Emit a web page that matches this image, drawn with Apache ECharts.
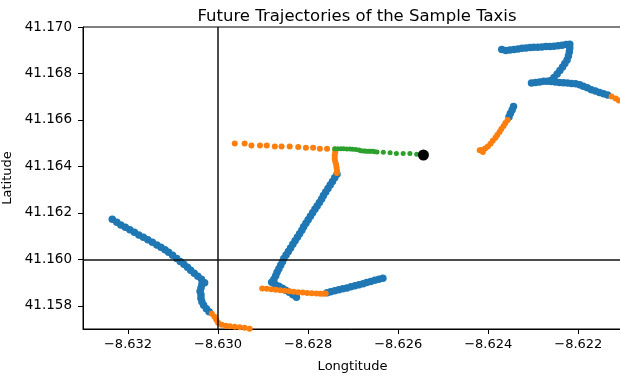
<!DOCTYPE html>
<html>
<head>
<meta charset="utf-8">
<title>Future Trajectories of the Sample Taxis</title>
<script src="https://cdn.jsdelivr.net/npm/echarts@6.0.0/dist/echarts.min.js"></script>
<style>
    html, body { margin: 0; padding: 0; background: #fff; }
    #chart { width: 620px; height: 376px; }
</style>
</head>
<body>
<div id="chart"></div>
<script>
// tick labels
var lonTicks = [-8.632, -8.630, -8.628, -8.626, -8.624, -8.622];
var latTicks = [41.158, 41.160, 41.162, 41.164, 41.166, 41.168, 41.170];

// reference cross
var refLon = -8.630;
var refLat = 41.160;

// taxi A (left)
var pastA = [
    [-8.63235, 41.16172], [-8.63225, 41.16159], [-8.63216, 41.16148], [-8.63206, 41.16138],
    [-8.63196, 41.16127], [-8.63186, 41.16116], [-8.63176, 41.16105], [-8.63166, 41.16095],
    [-8.63156, 41.16084], [-8.63146, 41.16073], [-8.63136, 41.16062], [-8.63127, 41.16052],
    [-8.63118, 41.16041], [-8.63110, 41.16030], [-8.63101, 41.16017], [-8.63092, 41.16004],
    [-8.63084, 41.15991], [-8.63076, 41.15979], [-8.63068, 41.15966], [-8.63061, 41.15953],
    [-8.63053, 41.15940], [-8.63045, 41.15927], [-8.63037, 41.15914], [-8.63030, 41.15899],
    [-8.63036, 41.15892], [-8.63038, 41.15877], [-8.63040, 41.15862], [-8.63038, 41.15847],
    [-8.63038, 41.15832], [-8.63036, 41.15817], [-8.63032, 41.15802], [-8.63026, 41.15787],
    [-8.63020, 41.15774]
];
var futureA = [
    [-8.63014, 41.15766], [-8.63008, 41.15753], [-8.63004, 41.15740], [-8.63000, 41.15727],
    [-8.62992, 41.15718], [-8.62983, 41.15714], [-8.62974, 41.15712], [-8.62963, 41.15710],
    [-8.62952, 41.15708], [-8.62941, 41.15705], [-8.62930, 41.15701], [-8.62918, 41.15697],
    [-8.62907, 41.15692], [-8.62894, 41.15686], [-8.62881, 41.15680]
];

// taxi B (middle)
var pastB = [
    [-8.62736, 41.16366], [-8.62741, 41.16351], [-8.62746, 41.16335], [-8.62751, 41.16320],
    [-8.62756, 41.16305], [-8.62761, 41.16290], [-8.62766, 41.16275], [-8.62770, 41.16260],
    [-8.62775, 41.16245], [-8.62780, 41.16230], [-8.62785, 41.16215], [-8.62790, 41.16200],
    [-8.62795, 41.16185], [-8.62800, 41.16170], [-8.62805, 41.16155], [-8.62810, 41.16140],
    [-8.62814, 41.16125], [-8.62819, 41.16110], [-8.62824, 41.16095], [-8.62829, 41.16080],
    [-8.62834, 41.16065], [-8.62839, 41.16049], [-8.62844, 41.16034], [-8.62849, 41.16019],
    [-8.62854, 41.16004], [-8.62857, 41.15989], [-8.62861, 41.15974], [-8.62865, 41.15959],
    [-8.62869, 41.15944], [-8.62872, 41.15929], [-8.62876, 41.15914], [-8.62881, 41.15901],
    [-8.62873, 41.15892], [-8.62865, 41.15884], [-8.62857, 41.15875], [-8.62850, 41.15867],
    [-8.62842, 41.15858], [-8.62834, 41.15847], [-8.62826, 41.15837],
    [-8.62758, 41.15856], [-8.62750, 41.15860], [-8.62741, 41.15865], [-8.62732, 41.15869],
    [-8.62723, 41.15873], [-8.62714, 41.15877], [-8.62705, 41.15882], [-8.62696, 41.15886],
    [-8.62687, 41.15890], [-8.62678, 41.15895], [-8.62670, 41.15900], [-8.62661, 41.15905],
    [-8.62652, 41.15910], [-8.62643, 41.15914], [-8.62634, 41.15918]
];
var futureB = [
    [-8.62740, 41.16473], [-8.62740, 41.16460], [-8.62741, 41.16447], [-8.62741, 41.16434],
    [-8.62740, 41.16421], [-8.62738, 41.16409], [-8.62737, 41.16396], [-8.62736, 41.16383],
    [-8.62736, 41.16372],
    [-8.62963, 41.16498], [-8.62941, 41.16498], [-8.62926, 41.16490], [-8.62907, 41.16490],
    [-8.62892, 41.16490], [-8.62874, 41.16486], [-8.62859, 41.16486], [-8.62841, 41.16486],
    [-8.62822, 41.16483], [-8.62805, 41.16480], [-8.62789, 41.16480], [-8.62774, 41.16476],
    [-8.62758, 41.16476],
    [-8.62902, 41.15874], [-8.62892, 41.15873], [-8.62882, 41.15871], [-8.62872, 41.15869],
    [-8.62862, 41.15867], [-8.62852, 41.15865], [-8.62842, 41.15862], [-8.62832, 41.15860],
    [-8.62822, 41.15858], [-8.62812, 41.15857], [-8.62802, 41.15855], [-8.62792, 41.15854],
    [-8.62782, 41.15853], [-8.62773, 41.15852], [-8.62766, 41.15852], [-8.62761, 41.15853]
];

// taxi C (upper right)
var pastC = [
    [-8.62370, 41.16903], [-8.62361, 41.16899], [-8.62352, 41.16901], [-8.62343, 41.16903],
    [-8.62334, 41.16905], [-8.62325, 41.16908], [-8.62316, 41.16910], [-8.62307, 41.16912],
    [-8.62299, 41.16913], [-8.62290, 41.16913], [-8.62281, 41.16914], [-8.62272, 41.16916],
    [-8.62263, 41.16916], [-8.62254, 41.16917], [-8.62245, 41.16919], [-8.62236, 41.16921],
    [-8.62227, 41.16925], [-8.62219, 41.16926],
    [-8.62219, 41.16910], [-8.62220, 41.16892], [-8.62222, 41.16875], [-8.62225, 41.16858],
    [-8.62230, 41.16843], [-8.62235, 41.16828], [-8.62241, 41.16813], [-8.62247, 41.16798],
    [-8.62254, 41.16783], [-8.62261, 41.16770],
    [-8.62304, 41.16759], [-8.62295, 41.16761], [-8.62286, 41.16763], [-8.62277, 41.16766],
    [-8.62269, 41.16766], [-8.62260, 41.16765], [-8.62251, 41.16763], [-8.62242, 41.16761],
    [-8.62233, 41.16760], [-8.62224, 41.16759], [-8.62215, 41.16757], [-8.62206, 41.16756],
    [-8.62197, 41.16751], [-8.62189, 41.16745], [-8.62180, 41.16738], [-8.62171, 41.16730],
    [-8.62162, 41.16724], [-8.62153, 41.16718], [-8.62144, 41.16713], [-8.62135, 41.16707]
];
var futureC = [
    [-8.62126, 41.16701], [-8.62117, 41.16692], [-8.62110, 41.16684], [-8.62101, 41.16675]
];

// taxi D (short diagonal)
var pastD = [
    [-8.62344, 41.16658], [-8.62347, 41.16643], [-8.62351, 41.16628], [-8.62354, 41.16613]
];
var futureD = [
    [-8.62357, 41.16600], [-8.62362, 41.16587], [-8.62366, 41.16574], [-8.62371, 41.16561],
    [-8.62375, 41.16548], [-8.62380, 41.16535], [-8.62384, 41.16523], [-8.62390, 41.16510],
    [-8.62395, 41.16497], [-8.62401, 41.16486], [-8.62407, 41.16477], [-8.62415, 41.16471],
    [-8.62419, 41.16469], [-8.62412, 41.16462]
];

// sample taxi
var sampleTraj = [
    [-8.62741, 41.16476], [-8.62734, 41.16476], [-8.62727, 41.16476], [-8.62721, 41.16476],
    [-8.62714, 41.16475], [-8.62707, 41.16475], [-8.62701, 41.16474], [-8.62694, 41.16473],
    [-8.62687, 41.16471], [-8.62683, 41.16467], [-8.62678, 41.16466], [-8.62674, 41.16466],
    [-8.62670, 41.16465], [-8.62665, 41.16465], [-8.62661, 41.16465], [-8.62656, 41.16465],
    [-8.62652, 41.16463], [-8.62647, 41.16462], [-8.62633, 41.16461], [-8.62618, 41.16459],
    [-8.62604, 41.16455], [-8.62589, 41.16455], [-8.62574, 41.16455], [-8.62559, 41.16452]
];
var samplePoint = [[-8.62544, 41.16449]];

var pastAll = pastA.concat(pastB, pastC, pastD);
var futureAll = futureA.concat(futureB, futureC, futureD);

function fmt(v) {
    return v.toFixed(3).replace('-', '\u2212');
}

var myChart = echarts.init(document.getElementById('chart'), null, {renderer: 'canvas'});
var font = 'DejaVu Sans';
var option = {
    animation: false,
    backgroundColor: '#fff',
    title: {
        text: 'Future Trajectories of the Sample Taxis',
        left: 352,
        textAlign: 'center',
        top: 3,
        textStyle: {fontFamily: font, fontSize: 16.5, fontWeight: 'normal', color: '#000'}
    },
    grid: {
        left: 83, right: -2, top: 27, bottom: 47,
        outerBoundsMode: 'none',
        containLabel: false,
        show: true, borderColor: '#000', borderWidth: 1
    },
    xAxis: {
        type: 'value',
        min: -8.633,
        max: -8.62103,
        name: 'Longtitude',
        nameLocation: 'middle',
        nameGap: 31,
        nameTextStyle: {fontFamily: font, fontSize: 13, color: '#000'},
        axisLine: {show: true, lineStyle: {color: '#000', width: 1}},
        axisTick: {show: true, customValues: lonTicks, length: 5, lineStyle: {color: '#000'}},
        axisLabel: {customValues: lonTicks, formatter: fmt, margin: 9,
            fontFamily: font, fontSize: 13, color: '#000'},
        splitLine: {show: false}
    },
    yAxis: {
        type: 'value',
        min: 41.157,
        max: 41.170,
        name: 'Latitude',
        nameLocation: 'middle',
        nameGap: 64,
        nameTextStyle: {fontFamily: font, fontSize: 13, color: '#000'},
        axisLine: {show: true, lineStyle: {color: '#000', width: 1}},
        axisTick: {show: true, customValues: latTicks, length: 5, lineStyle: {color: '#000'}},
        axisLabel: {customValues: latTicks, formatter: fmt, margin: 11,
            fontFamily: font, fontSize: 13.5, color: '#000'},
        splitLine: {show: false}
    },
    series: [
        {
            name: 'past', type: 'scatter', data: pastAll, symbolSize: 7.5,
            itemStyle: {color: '#1f77b4', opacity: 1}, clip: true, silent: true
        },
        {
            name: 'future', type: 'scatter', data: futureAll, symbolSize: 6,
            itemStyle: {color: '#ff7f0e', opacity: 1}, clip: true, silent: true
        },
        {
            name: 'sample', type: 'scatter', data: sampleTraj, symbolSize: 5,
            itemStyle: {color: '#2ca02c', opacity: 1}, clip: true, silent: true
        },
        {
            name: 'current', type: 'scatter', data: samplePoint, symbolSize: 11,
            itemStyle: {color: '#000', opacity: 1}, clip: true, silent: true
        },
        {
            name: 'ref', type: 'line', data: [], z: 5,
            markLine: {
                silent: true,
                symbol: ['none', 'none'],
                label: {show: false},
                lineStyle: {color: '#111', width: 1.5, type: 'solid'},
                data: [{xAxis: refLon}, {yAxis: refLat}]
            }
        }
    ]
};
myChart.setOption(option);
</script>
</body>
</html>
